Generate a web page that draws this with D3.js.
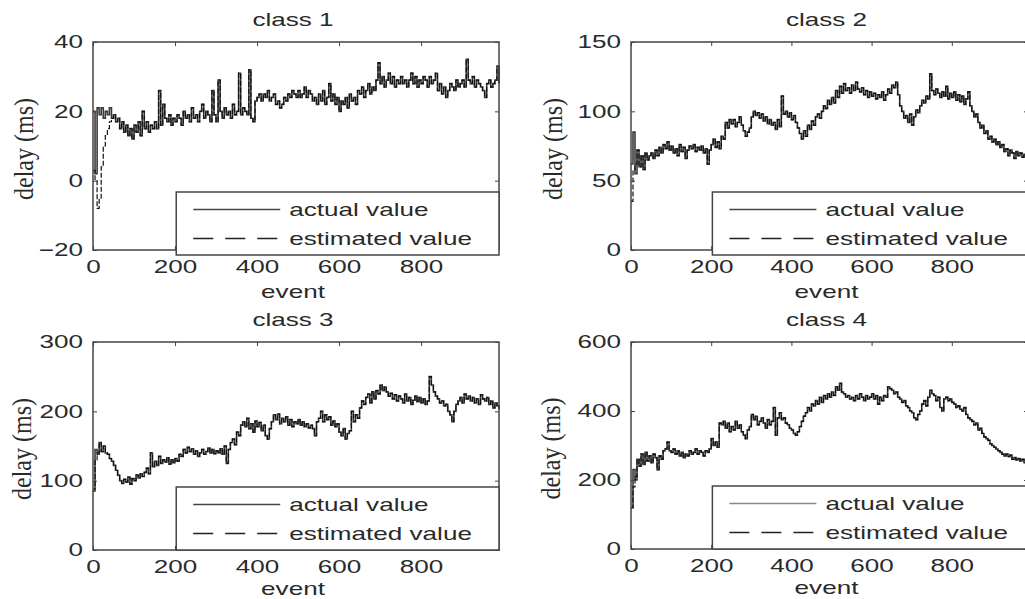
<!DOCTYPE html>
<html>
<head>
  <meta charset="utf-8">
  <script src="https://cdn.jsdelivr.net/npm/d3@7"></script>
  <style type="text/css">
    body { margin: 0; background: #fff; }
    svg { display: block; }
    text { font-family: Arial, "Liberation Sans", Helvetica, sans-serif; fill: #2a2a2a; }
    .ylabel { font-family: "Times New Roman", "Liberation Serif", serif; }
  </style>
</head>
<body>
  <script type="text/javascript">

  // events are sampled every 5 steps: 0, 5, ..., 990
  const eventStep = 5;
  const xDomain = [0, 990];
  const xTicks = [0, 200, 400, 600, 800];

  const titles = ['class 1', 'class 2', 'class 3', 'class 4'];
  const legendLabels = ['actual value', 'estimated value'];

  // class 1 delay (ms)
  const c1Actual = [
    20, 2, 21, 19, 21, 18, 20, 19, 21, 18,
    19, 17, 18, 15, 17, 14, 16, 13, 15, 12,
    16, 14, 17, 13, 20, 15, 17, 14, 16, 15,
    17, 15, 26, 16, 22, 18, 17, 19, 16, 18,
    17, 19, 18, 16, 20, 18, 19, 17, 21, 18,
    19, 17, 20, 22, 18, 20, 19, 17, 26, 19,
    17, 29, 20, 18, 21, 19, 20, 18, 22, 19,
    20, 31, 19, 21, 20, 19, 32, 18, 17, 23,
    24, 25, 23, 25, 24, 26, 23, 24, 25, 22,
    23, 21, 22, 24, 23, 25, 24, 26, 25, 24,
    26, 24, 25, 27, 24, 26, 25, 23, 24, 22,
    25, 23, 26, 22, 24, 28, 23, 25, 22, 24,
    20, 23, 22, 24, 21, 25, 23, 24, 22, 26,
    25, 27, 24, 26, 28, 25, 27, 26, 29, 34,
    28, 30, 27, 29, 31, 28, 30, 27, 29, 28,
    30, 28, 29, 27, 29, 31, 28, 30, 27, 29,
    28, 30, 29, 27, 30, 28, 29, 31, 26, 28,
    25, 27, 24, 26, 28, 27, 26, 29, 27, 28,
    29, 27, 35, 29, 28, 30, 27, 29, 28, 27,
    26, 24, 28, 29, 27, 28, 29, 33, 28
  ];
  const c1EstStart = [3, 0, -8, -5, 4, 10, 13, 15, 17, 18, 19];
  const c1YTicks = [-20, 0, 20, 40];

  // class 2 delay (ms)
  const c2Actual = [
    62, 85, 55, 72, 60, 68, 58, 70, 65, 68,
    70, 66, 72, 68, 74, 70, 76, 73, 78, 72,
    75, 70, 73, 68, 76, 71, 74, 66, 72, 75,
    73, 76, 71, 74, 72, 75, 70, 73, 62, 72,
    76, 80, 74, 78, 73, 82, 80, 92, 88, 94,
    91, 94, 89, 92, 96, 90, 86, 82, 85, 88,
    96, 100, 97, 99, 95, 98, 93, 96, 91, 94,
    90, 92, 87, 94, 89, 111, 98, 100, 96, 99,
    94, 97, 92, 88, 84, 80, 86, 82, 90, 87,
    93, 90, 96, 98, 95, 100, 104, 102, 108, 105,
    110, 106, 115, 110, 118, 113, 120, 115, 117, 113,
    119, 115, 121, 116, 114, 117, 112, 115, 110, 114,
    111, 113, 109, 112, 110, 114, 108, 112, 116, 113,
    119, 117, 121, 112, 104, 100, 95, 97, 92, 98,
    90, 96, 101, 99, 104, 108, 106, 111, 109, 127,
    115, 112, 116, 113, 110, 114, 111, 118, 109, 113,
    110, 114, 108, 112, 107, 111, 105, 109, 114, 104,
    100, 96, 98, 92, 88, 90, 84, 86, 80, 82,
    78, 80, 76, 78, 74, 76, 71, 73, 68, 72,
    70, 66, 71, 68, 70, 67, 69, 66, 68
  ];
  const c2EstStart = [35, 58, 62];
  const c2YTicks = [0, 50, 100, 150];

  // class 3 delay (ms)
  const c3Actual = [
    88, 145, 138, 155, 142, 150, 140, 138, 132, 128,
    122, 115, 108, 100, 96, 102, 98, 105, 95, 103,
    100, 108, 104, 110, 106, 112, 118, 110, 140, 120,
    128, 122, 135, 125, 130, 127, 133, 124, 130, 126,
    132, 128, 138, 135, 145, 140, 148, 142, 146, 138,
    143, 135, 140, 145, 138, 142, 147, 140, 145, 139,
    143, 140, 146, 138, 150, 125, 145, 155, 160, 152,
    170, 165, 180, 185, 178, 190, 175, 182, 170, 186,
    178, 184, 172, 180, 165, 160, 175, 185, 195, 188,
    196, 182, 190, 185, 192, 180, 188, 178, 185, 182,
    188, 180, 185, 178, 182, 176, 180, 175, 165, 185,
    190, 200, 185, 195, 188, 192, 180, 186, 178, 182,
    170, 165, 175, 160, 168, 172, 200, 185, 195, 190,
    205, 215, 210, 220, 225, 212, 228, 218, 230, 225,
    238, 230, 235, 228, 222, 226, 218, 224, 215, 222,
    218, 212, 225, 215, 220, 210, 216, 222, 214, 220,
    212, 218, 210, 215, 250, 238, 228, 222, 218, 212,
    215, 208, 210, 200, 195, 185, 200, 210, 215, 220,
    212, 225, 218, 222, 215, 220, 212, 218, 210, 224,
    218, 215, 220, 210, 215, 205, 212, 208, 203
  ];
  const c3EstStart = [85, 130, 140];
  const c3YTicks = [0, 100, 200, 300];

  // class 4 delay (ms)
  const c4Actual = [
    120, 230, 200, 260, 240, 275, 245, 280, 255, 270,
    250, 275, 265, 230, 270, 260, 285, 290, 310, 285,
    280, 290, 275, 285, 270, 280, 265, 275, 270, 285,
    275, 280, 290, 275, 285, 280, 270, 285, 280, 290,
    320, 300, 310, 295, 365, 360, 370, 350, 365, 340,
    355, 345, 370, 350, 360, 340, 330, 320, 345, 355,
    390, 375, 385, 360, 370, 380, 365, 350, 375, 360,
    370, 410, 330, 380, 395, 375, 380, 365, 360, 350,
    345, 335, 330, 340, 355, 370, 385, 395, 410, 400,
    420, 415, 430, 420, 440, 425, 445, 435, 450, 440,
    455, 445, 470, 460, 480, 455, 450, 440, 445, 435,
    440, 430, 445, 435, 450, 440, 430, 445, 435, 440,
    450, 435, 445, 420, 440, 430, 445, 440, 470, 465,
    460, 450, 455, 440, 435, 425, 430, 415, 410, 400,
    395, 380, 375, 390, 400, 420, 430, 415, 440, 460,
    450, 445, 430, 440, 410, 400, 435, 440, 430, 435,
    425, 420, 410, 415, 405, 400, 410, 390, 380, 375,
    370, 360, 365, 345, 350, 335, 325, 320, 315, 305,
    300, 295, 290, 285, 280, 275, 270, 275, 268, 272,
    260, 265, 258, 262, 255, 260, 250, 258, 255
  ];
  const c4EstStart = [120, 180, 210];
  const c4YTicks = [0, 200, 400, 600];

  // the source image is stretched sideways, so text is too
  const stretch = 1.45;

  const svg = d3.select('body').append('svg')
    .attr('width', 1025)
    .attr('height', 599);

  // one entry per subplot (layout only, values come from the arrays above)
  const panels = [
    {title: titles[0], actual: c1Actual, est: c1EstStart, yTicks: c1YTicks,
     left: 93, top: 42, width: 406, height: 208, legendBottom: 255, labelX: 24, legendGray: '#444', eventDy: 48},
    {title: titles[1], actual: c2Actual, est: c2EstStart, yTicks: c2YTicks,
     left: 631, top: 42, width: 397, height: 208, legendBottom: 255, labelX: 553, legendGray: '#444', eventDy: 48},
    {title: titles[2], actual: c3Actual, est: c3EstStart, yTicks: c3YTicks,
     left: 93, top: 342, width: 406, height: 208, legendBottom: 550, labelX: 22, legendGray: '#444', eventDy: 45},
    {title: titles[3], actual: c4Actual, est: c4EstStart, yTicks: c4YTicks,
     left: 631, top: 342, width: 397, height: 207, legendBottom: 549, labelX: 551, legendGray: '#888', eventDy: 45}
  ];

  function stext(parent, x, y, str, anchor, size) {
    return parent.append('text')
      .attr('transform', `translate(${x},${y}) scale(${stretch},1)`)
      .attr('text-anchor', anchor)
      .style('font-size', size + 'px')
      .text(str);
  }

  panels.forEach((p, k) => {
    const g = svg.append('g').attr('transform', `translate(${p.left},${p.top})`);

    const xscale = d3.scaleLinear().domain(xDomain).range([0, p.width]);
    const yscale = d3.scaleLinear()
      .domain([p.yTicks[0], p.yTicks[p.yTicks.length - 1]])
      .range([p.height, 0]);

    const actual = p.actual.map((v, i) => [i * eventStep, v]);
    const estimated = p.est.concat(p.actual.slice(p.est.length))
      .map((v, i) => [i * eventStep, v]);

    // stairs, like the original plot
    const line = d3.line()
      .curve(d3.curveStepAfter)
      .x(d => xscale(d[0]))
      .y(d => yscale(d[1]));

    g.append('path')
      .datum(actual)
      .attr('fill', 'none')
      .attr('stroke', '#3a3a3a')
      .attr('stroke-width', 1.6)
      .attr('d', line);

    g.append('path')
      .datum(estimated)
      .attr('fill', 'none')
      .attr('stroke', '#111')
      .attr('stroke-width', 1.2)
      .attr('stroke-dasharray', '5,2')
      .attr('d', line);

    // box
    g.append('rect')
      .attr('width', p.width).attr('height', p.height)
      .attr('fill', 'none').attr('stroke', '#444').attr('stroke-width', 1.5);

    // inward ticks on all four sides
    const xaxis = d3.axisBottom(xscale).tickValues(xTicks).tickSizeInner(-4).tickSizeOuter(0).tickPadding(10);
    const yaxis = d3.axisLeft(yscale).tickValues(p.yTicks).tickSizeInner(-4).tickSizeOuter(0).tickPadding(10);
    const xtop = d3.axisTop(xscale).tickValues(xTicks).tickSizeInner(-4).tickSizeOuter(0).tickFormat('');
    const yright = d3.axisRight(yscale).tickValues(p.yTicks).tickSizeInner(-4).tickSizeOuter(0).tickFormat('');

    const gx = g.append('g').attr('transform', `translate(0,${p.height})`).call(xaxis);
    const gy = g.append('g').call(yaxis);
    g.append('g').call(xtop);
    g.append('g').attr('transform', `translate(${p.width},0)`).call(yright);

    g.selectAll('.domain').remove();
    g.selectAll('.tick line').attr('stroke', '#444');
    [gx, gy].forEach(a => a.selectAll('text')
      .style('font-size', '18px')
      .attr('fill', '#2a2a2a')
      .attr('font-family', 'Arial, "Liberation Sans", sans-serif'));
    gx.selectAll('text').attr('transform', `scale(${stretch},1)`);
    gy.selectAll('text').attr('x', -10 / stretch).attr('transform', `scale(${stretch},1)`);

    // title and axis labels
    stext(g, p.width / 2 - 3, -16, p.title, 'middle', 18);
    stext(g, p.width / 2 - 3, p.height + p.eventDy, 'event', 'middle', 18);
    svg.append('text')
      .attr('class', 'ylabel')
      .attr('transform', `translate(${p.labelX},${p.top + p.height / 2 + 3}) rotate(-90) scale(1,1.15)`)
      .attr('text-anchor', 'middle')
      .attr('dy', '0.32em')
      .style('font-size', '24px')
      .text('delay (ms)');

    // legend, anchored to the right edge of the axes
    const lw = p.width * 0.795;
    const lh = 63;
    const lg = g.append('g')
      .attr('transform', `translate(${p.width - lw},${p.legendBottom - p.top - lh})`);
    lg.append('rect')
      .attr('width', lw).attr('height', lh)
      .attr('fill', '#fff').attr('stroke', '#444').attr('stroke-width', 1.5);
    const rows = [17.5, 46.5];
    legendLabels.forEach((lab, j) => {
      lg.append('line')
        .attr('x1', 17).attr('x2', 104)
        .attr('y1', rows[j]).attr('y2', rows[j])
        .attr('stroke', j === 0 ? p.legendGray : '#222')
        .attr('stroke-width', 1.3)
        .attr('stroke-dasharray', j === 0 ? null : '20,12');
      stext(lg, 113, rows[j] + 6.5, lab, 'start', 18);
    });
  });

  </script>
</body>
</html>
